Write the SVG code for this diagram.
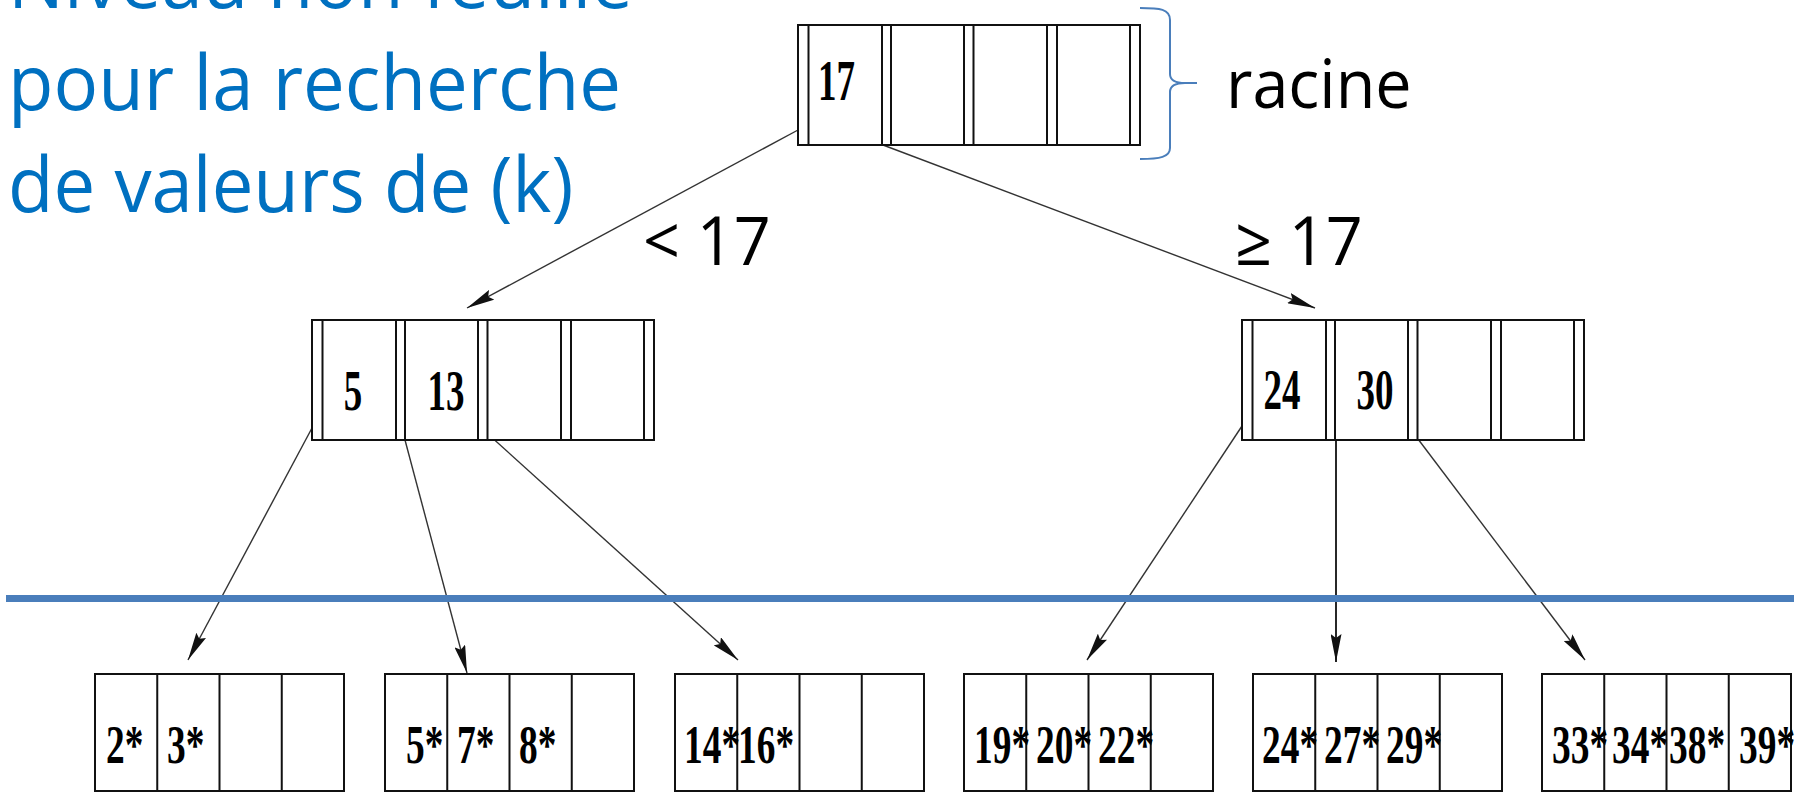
<svg xmlns="http://www.w3.org/2000/svg" width="1804" height="793" viewBox="0 0 1804 793">
<style>
.box{fill:#fff;stroke:#111;stroke-width:2}
.sep{stroke:#111;stroke-width:2}
.key{font-family:"Liberation Serif","Times New Roman",serif;font-weight:bold;font-size:56px;fill:#000}
.lkey{font-family:"Liberation Serif","Times New Roman",serif;font-weight:bold;font-size:55px;fill:#000}
.blue{font-family:"Open Sans","Noto Sans",sans-serif;font-size:77px;fill:#0070c0}
.lbl{font-family:"Open Sans","Noto Sans",sans-serif;font-size:67px;fill:#000}
.conn{stroke:#333;stroke-width:1.4;fill:none;marker-end:url(#ah)}
</style>
<defs>
<marker id="ah" markerUnits="userSpaceOnUse" viewBox="0 0 28 11" refX="28" refY="5.5" markerWidth="28" markerHeight="11" orient="auto">
<path d="M0,0 L28,5.5 L0,11 L4,5.5 Z" fill="#111"/>
</marker>
<g id="inode">
<rect class="box" x="0" y="0" width="342" height="120"/>
<path class="sep" d="M10.5,0V120M84,0V120M93,0V120M166,0V120M175.5,0V120M249,0V120M259,0V120M332,0V120"/>
</g>
<g id="leaf">
<rect class="box" x="0" y="0" width="249" height="117"/>
<path class="sep" d="M62.25,0V117M124.5,0V117M186.75,0V117"/>
</g>
</defs>
<rect width="1804" height="793" fill="#fff"/>

<g id="caption" transform="translate(8,0) scale(0.965,1)">
<text class="blue" x="0" y="8">Niveau non feuille</text>
<text class="blue" x="0" y="110">pour la recherche</text>
<text class="blue" x="0" y="212">de valeurs de (k)</text>
</g>

<g id="brace">
<path d="M1140,8 C1160,8 1170,9 1170,20 L1170,74 C1170,80 1175,83 1185,83 L1197,83 M1185,83 C1175,83 1170,86 1170,92 L1170,148 C1170,157 1160,159 1140,159" fill="none" stroke="#4a7ebb" stroke-width="2"/>
<text class="lbl" transform="translate(1226,108) scale(0.965,1)">racine</text>
</g>

<g id="connectors">
<line class="conn" x1="798" y1="130" x2="467" y2="308"/>
<line class="conn" x1="883" y1="145" x2="1315" y2="308"/>
<line class="conn" x1="312" y1="428" x2="188" y2="660"/>
<line class="conn" x1="405" y1="440" x2="467" y2="673"/>
<line class="conn" x1="478" y1="425" x2="738" y2="660"/>
<line class="conn" x1="1242" y1="426" x2="1087" y2="660"/>
<line class="conn" x1="1336" y1="440" x2="1336" y2="662" style="stroke:#111;stroke-width:1.8"/>
<line class="conn" x1="1418" y1="439" x2="1585" y2="660"/>
</g>

<g id="labels">
<text class="lbl" transform="translate(643,265) scale(0.965,1)">&lt; 17</text>
<text class="lbl" transform="translate(1235,265) scale(0.965,1)">≥ 17</text>
</g>

<g id="separator">
<line x1="6" y1="598.5" x2="1794" y2="598.5" stroke="#4a7ebb" stroke-width="7"/>
</g>

<g id="root">
<use href="#inode" x="798" y="25"/>
<text class="key" text-anchor="middle" transform="translate(836.5,100) scale(0.66,1)">17</text>
</g>

<g id="inner-left">
<use href="#inode" x="312" y="320"/>
<text class="key" text-anchor="middle" transform="translate(353,410) scale(0.66,1)">5</text>
<text class="key" text-anchor="middle" transform="translate(446,410) scale(0.66,1)">13</text>
</g>

<g id="inner-right">
<use href="#inode" x="1242" y="320"/>
<text class="key" text-anchor="middle" transform="translate(1282,409) scale(0.66,1)">24</text>
<text class="key" text-anchor="middle" transform="translate(1375,409) scale(0.66,1)">30</text>
</g>

<g id="leaf1">
<use href="#leaf" x="95" y="674"/>
<text class="lkey" transform="translate(106,763) scale(0.68,1)">2*</text>
<text class="lkey" transform="translate(167,763) scale(0.68,1)">3*</text>
</g>
<g id="leaf2">
<use href="#leaf" x="385" y="674"/>
<text class="lkey" transform="translate(406,763) scale(0.68,1)">5*</text>
<text class="lkey" transform="translate(457,763) scale(0.68,1)">7*</text>
<text class="lkey" transform="translate(519,763) scale(0.68,1)">8*</text>
</g>
<g id="leaf3">
<use href="#leaf" x="675" y="674"/>
<text class="lkey" transform="translate(684,763) scale(0.68,1)">14*</text>
<text class="lkey" transform="translate(738,763) scale(0.68,1)">16*</text>
</g>
<g id="leaf4">
<use href="#leaf" x="964" y="674"/>
<text class="lkey" transform="translate(974,763) scale(0.68,1)">19*</text>
<text class="lkey" transform="translate(1036,763) scale(0.68,1)">20*</text>
<text class="lkey" transform="translate(1098,763) scale(0.68,1)">22*</text>
</g>
<g id="leaf5">
<use href="#leaf" x="1253" y="674"/>
<text class="lkey" transform="translate(1262,763) scale(0.68,1)">24*</text>
<text class="lkey" transform="translate(1324,763) scale(0.68,1)">27*</text>
<text class="lkey" transform="translate(1386,763) scale(0.68,1)">29*</text>
</g>
<g id="leaf6">
<use href="#leaf" x="1542" y="674"/>
<text class="lkey" transform="translate(1552,763) scale(0.68,1)">33*</text>
<text class="lkey" transform="translate(1612,763) scale(0.68,1)">34*</text>
<text class="lkey" transform="translate(1669,763) scale(0.68,1)">38*</text>
<text class="lkey" transform="translate(1739,763) scale(0.68,1)">39*</text>
</g>
</svg>
